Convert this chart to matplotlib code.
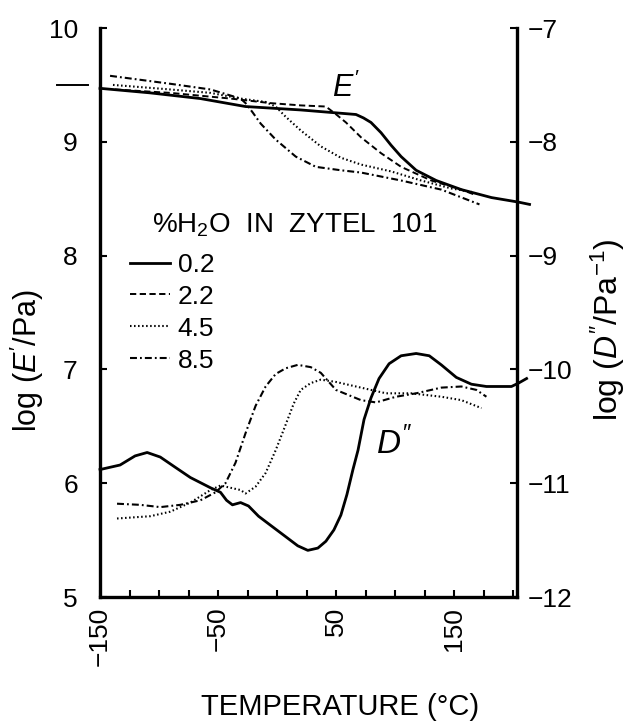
import matplotlib
matplotlib.use('Agg')
import matplotlib.pyplot as plt
from matplotlib.lines import Line2D

plt.rcParams['font.family'] = ['Liberation Sans', 'DejaVu Sans']
plt.rcParams['mathtext.fontset'] = 'custom'
plt.rcParams['mathtext.rm'] = 'Liberation Sans'
plt.rcParams['mathtext.it'] = 'Liberation Sans:italic'
plt.rcParams['lines.scale_dashes'] = False

# log E' curves (left axis), temperature in degC
t_e_02 = [-150, -107.5, -65, -26.8, 19.9, 66.7, 73.0, 79.4, 87.9, 96.4, 104.9, 117.6, 134.6, 155.9, 181.4, 204.3, 213.6]
e_02 = [9.47, 9.43, 9.38, 9.31, 9.28, 9.24, 9.21, 9.17, 9.08, 8.97, 8.87, 8.75, 8.66, 8.58, 8.51, 8.47, 8.45]

t_e_22 = [-137.3, -90.5, -39.5, -5.6, 19.9, 41.2, 50.0, 58.2, 70.9, 87.9, 104.9, 130.4, 155.9, 168.6]
e_22 = [9.46, 9.43, 9.38, 9.34, 9.32, 9.31, 9.24, 9.17, 9.04, 8.90, 8.78, 8.66, 8.58, 8.53]

t_e_45 = [-139, -90.5, -56.5, -31, -9.8, -1.3, 7.2, 19.9, 36.9, 53.9, 70.9, 96.4, 121.9, 147.4, 164.4]
e_45 = [9.50, 9.46, 9.43, 9.38, 9.35, 9.31, 9.22, 9.10, 8.96, 8.86, 8.80, 8.74, 8.66, 8.59, 8.56]

t_e_85 = [-141.5, -90.5, -56.5, -31, -26.8, -20.9, -14, -1.3, 15.7, 32.7, 53.9, 70.9, 104.9, 138.9, 171.2]
e_85 = [9.58, 9.51, 9.46, 9.38, 9.34, 9.26, 9.16, 9.02, 8.87, 8.78, 8.75, 8.73, 8.66, 8.58, 8.45]

# log D'' curves (right axis)
t_d_02 = [-150, -133, -120.3, -110.1, -99, -86.3, -73.5, -56.5, -48, -42.9, -37.9, -31, -24.3, -15.8, -5.6,
          7.2, 17.4, 25.9, 34.4, 41.2, 48.0, 53.9, 59.0, 64.1, 68.4, 73.5, 79.4, 86.2, 94.7, 104.9,
          117.6, 128.7, 138.9, 151.6, 164.4, 177.1, 198.3, 204.3, 211.1]
d_02 = [-10.88, -10.84, -10.76, -10.73, -10.77, -10.86, -10.95, -11.04, -11.08, -11.15, -11.19, -11.17, -11.20, -11.29, -11.37,
        -11.47, -11.55, -11.59, -11.57, -11.51, -11.41, -11.28, -11.10, -10.88, -10.71, -10.44, -10.25, -10.08, -9.95, -9.88,
        -9.86, -9.88, -9.96, -10.07, -10.13, -10.15, -10.15, -10.12, -10.08]

t_d_45 = [-135.6, -107.5, -90.5, -73.5, -56.5, -48, -31, -26.8, -18.3, -9.8, -1.3, 5.5, 14, 19.9, 28.4, 36.9,
          49.7, 70.9, 92.1, 113.4, 138.9, 155.9, 172.9]
d_45 = [-11.31, -11.29, -11.25, -11.17, -11.06, -11.02, -11.06, -11.09, -11.03, -10.91, -10.71, -10.53, -10.30, -10.18, -10.12, -10.09,
        -10.11, -10.16, -10.21, -10.21, -10.24, -10.27, -10.34]

t_d_85 = [-135.6, -116, -99, -82, -65, -52.3, -43.8, -35.3, -26.8, -18.3, -9.8, -1.3, 7.2, 17.4, 28.4, 36.9, 49.7,
          70.9, 83.6, 100.6, 117.6, 138.9, 155.9, 168.6, 177.1]
d_85 = [-11.18, -11.19, -11.21, -11.19, -11.15, -11.08, -11.00, -10.82, -10.56, -10.32, -10.15, -10.04, -9.99, -9.96, -9.98, -10.03, -10.18,
        -10.27, -10.29, -10.24, -10.21, -10.16, -10.15, -10.18, -10.24]

water = ['0.2', '2.2', '4.5', '8.5']
styles = {
    '0.2': dict(ls='-', lw=2.0),
    '2.2': dict(ls=(0, (4.5, 2.5)), lw=1.4),
    '4.5': dict(ls=(0, (1.1, 1.8)), lw=1.5),
    '8.5': dict(ls=(0, (5, 2.2, 1.3, 2.2)), lw=1.5),
}
e_curves = {'0.2': (t_e_02, e_02), '2.2': (t_e_22, e_22), '4.5': (t_e_45, e_45), '8.5': (t_e_85, e_85)}
d_curves = {'0.2': (t_d_02, d_02), '4.5': (t_d_45, d_45), '8.5': (t_d_85, d_85)}

fig = plt.figure(figsize=(6.27, 7.22), dpi=100)
ax = fig.add_axes([0.1595, 0.1731, 0.6651, 0.7881])
ax2 = ax.twinx()

for k, (t, v) in e_curves.items():
    ax.plot(t, v, color='black', clip_on=False, solid_joinstyle='round', **styles[k])
for k, (t, v) in d_curves.items():
    ax2.plot(t, v, color='black', clip_on=False, solid_joinstyle='round', **styles[k])

# short mark left of the axis at 9.5
ax.plot([-186, -160], [9.5, 9.5], color='black', lw=1.4, clip_on=False)

ax.set_xlim(-150, 203)
ax.set_ylim(5, 10)
ax2.set_ylim(-12, -7)

ax.set_xticks([-150, -50, 50, 150])
ax.set_xticks(range(-150, 201, 25), minor=True)
ax.set_yticks(range(5, 11))
ax2.set_yticks(range(-12, -6))

for s in ['top', 'right']:
    ax.spines[s].set_visible(False)
for s in ['top', 'left', 'bottom']:
    ax2.spines[s].set_visible(False)
ax.spines['left'].set_linewidth(2.4)
ax.spines['bottom'].set_linewidth(2.4)
ax2.spines['right'].set_linewidth(2.4)

ax.tick_params(axis='x', which='both', direction='in', length=5, width=1.5, labelsize=19, pad=7,
               labelrotation=90)
ax.tick_params(axis='y', direction='in', length=5, width=1.5, labelsize=19, pad=16)
ax2.tick_params(axis='y', direction='in', length=5, width=1.5, labelsize=19, pad=8)

ax.set_xlabel('TEMPERATURE (°C)', fontsize=21)
ax.xaxis.set_label_coords(0.576, -0.169)
ax.set_ylabel("log ($E'$/Pa)", fontsize=22)
ax.yaxis.set_label_coords(-0.175, 0.415)
ax.yaxis.label.set_va('center')
ax2.set_ylabel("log ($D''$/Pa$^{-1}$)", fontsize=23)
ax2.yaxis.set_label_coords(1.218, 0.47)
ax2.yaxis.label.set_va('center')

ax.text(58, 9.47, "$E'$", fontsize=22, ha='center', va='center')
ax.text(99, 6.35, "$D''$", fontsize=24, ha='center', va='center')

ax.text(0.125, 0.64, "%H$_2$O  IN  ZYTEL  101", transform=ax.transAxes, fontsize=20, va='baseline')
handles = [Line2D([], [], color='black', **styles[k]) for k in water]
ax.legend(handles, water, loc='upper left', bbox_to_anchor=(0.072, 0.605), frameon=False,
          fontsize=19, handlelength=1.5, handletextpad=0.3, labelspacing=0.3,
          borderpad=0, borderaxespad=0)

fig.savefig('out.png', dpi=100)
